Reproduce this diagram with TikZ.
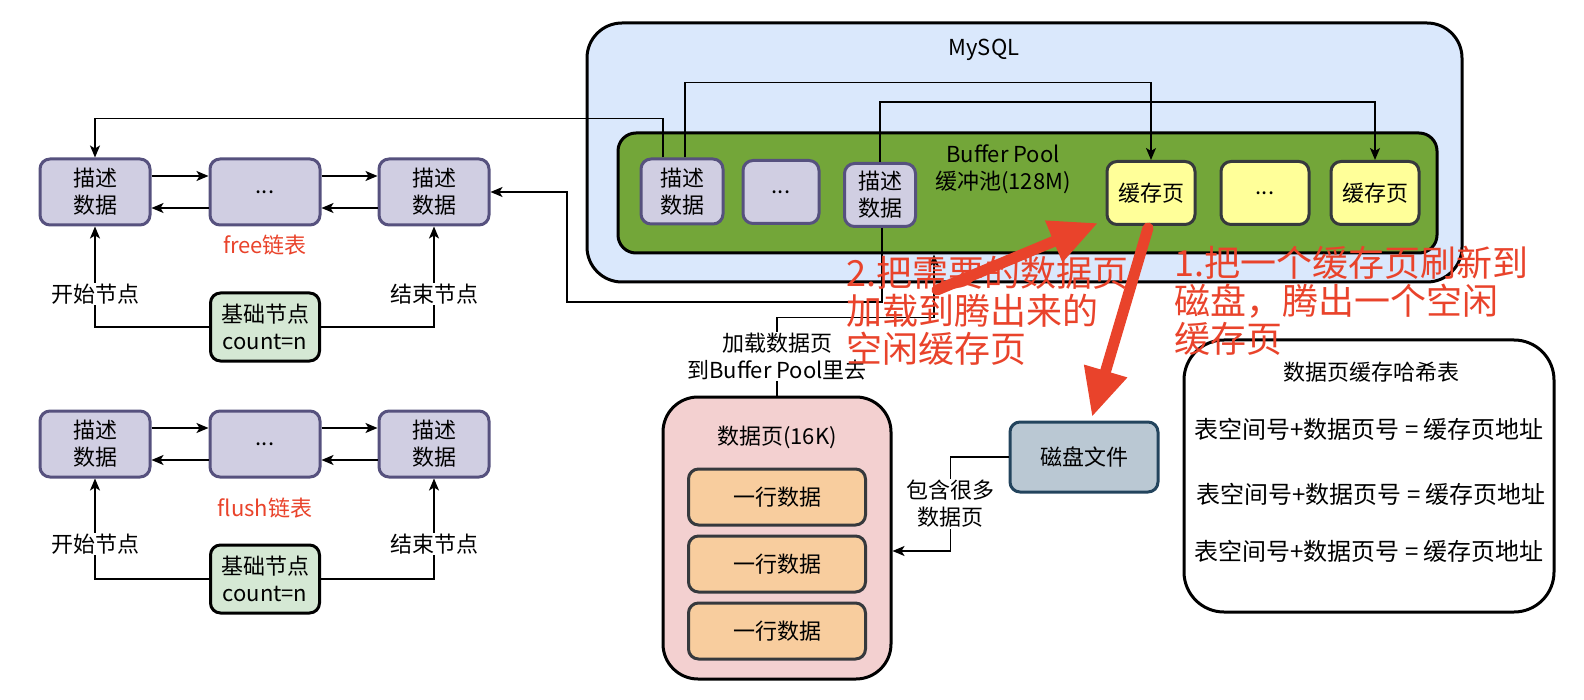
\documentclass[tikz,border=0pt]{standalone}
\usepackage{fontspec}
\setmainfont{Noto Sans CJK SC}
\usetikzlibrary{arrows.meta,positioning}
\tikzset{>={Stealth[width=10pt,length=12pt,inset=3pt]}}

\definecolor{descfill}{HTML}{D0CEE2}
\definecolor{descline}{HTML}{56517E}
\definecolor{basefill}{HTML}{D5E8D4}
\definecolor{mysqlfill}{HTML}{DAE8FC}
\definecolor{poolfill}{HTML}{73A639}
\definecolor{cachefill}{HTML}{FFFF99}
\definecolor{darkline}{HTML}{36393D}
\definecolor{pagefill}{HTML}{F3D0D0}
\definecolor{rowfill}{HTML}{F8CD9E}
\definecolor{diskfill}{HTML}{BAC8D3}
\definecolor{diskline}{HTML}{23445D}
\definecolor{hintred}{HTML}{E9432B}

\tikzset{
  box/.style={rounded corners=10pt, line width=3pt, align=center, inner sep=0pt},
  desc/.style={box, draw=descline, fill=descfill, minimum height=66pt},
  basenode/.style={box, draw=black, fill=basefill, minimum width=109pt, minimum height=68pt},
  cache/.style={box, draw=darkline, fill=cachefill, minimum width=88pt, minimum height=63pt},
  rowbox/.style={box, draw=darkline, fill=rowfill, minimum width=177pt, minimum height=56pt},
  outer/.style={draw=black, line width=3pt, inner sep=0pt},
  conn/.style={line width=1.4pt, ->},
  tag/.style={fill=white, inner sep=1pt},
  hashrow/.style={font=\fontsize{24}{28}\selectfont},
  hint/.style={text=hintred, align=left, inner sep=0pt, font=\fontsize{36}{38}\selectfont},
  bigarrow/.style={draw=hintred, line width=11pt, line cap=round, -{Triangle[width=42pt,length=48pt]}},
}

\begin{document}
\begin{tikzpicture}[x=1pt, y=-1pt, every node/.append style={font=\fontsize{22}{27}\selectfont, align=center}]
  \useasboundingbox (0,0) rectangle (1584,700);

  % free list
  \node[desc, minimum width=110pt] (fa) at (95,192) {描述\\数据};
  \node[desc, minimum width=110pt] (fb) at (265,192) {...};
  \node[desc, minimum width=110pt] (fc) at (434,192) {描述\\数据};
  \node[text=hintred] (freelbl) at (265,245) {free链表};
  \node[basenode] (ba) at (265,327) {基础节点\\count=n};

  \draw[conn] ([yshift=16pt]fa.east) -- ([yshift=16pt]fb.west);
  \draw[conn] ([yshift=16pt]fb.east) -- ([yshift=16pt]fc.west);
  \draw[conn] ([yshift=-16pt]fb.west) -- ([yshift=-16pt]fa.east);
  \draw[conn] ([yshift=-16pt]fc.west) -- ([yshift=-16pt]fb.east);
  \draw[conn] (ba.west) -| (fa.south) node[tag, pos=0.665]{开始节点};
  \draw[conn] (ba.east) -| (fc.south) node[tag, pos=0.665]{结束节点};

  % flush list
  \node[desc, minimum width=110pt] (la) at (95,444) {描述\\数据};
  \node[desc, minimum width=110pt] (lb) at (265,444) {...};
  \node[desc, minimum width=110pt] (lc) at (434,444) {描述\\数据};
  \node[text=hintred] (flushlbl) at (265,508) {flush链表};
  \node[basenode] (bb) at (265,579) {基础节点\\count=n};

  \draw[conn] ([yshift=16pt]la.east) -- ([yshift=16pt]lb.west);
  \draw[conn] ([yshift=16pt]lb.east) -- ([yshift=16pt]lc.west);
  \draw[conn] ([yshift=-16pt]lb.west) -- ([yshift=-16pt]la.east);
  \draw[conn] ([yshift=-16pt]lc.west) -- ([yshift=-16pt]lb.east);
  \draw[conn] (bb.west) -| (la.south) node[tag, pos=0.675]{开始节点};
  \draw[conn] (bb.east) -| (lc.south) node[tag, pos=0.675]{结束节点};

  % MySQL and buffer pool
  \node[outer, fill=mysqlfill, rounded corners=35pt, minimum width=875pt, minimum height=259pt] (mysql) at (1024.5,152.5) {};
  \node (mysqllbl) at (984,50) {MySQL};
  \node[outer, fill=poolfill, rounded corners=18pt, minimum width=819pt, minimum height=120pt] (pool) at (1027.5,193) {};
  \node (poollbl) at (1003,169) {Buffer Pool\\缓冲池(128M)};

  \node[desc, minimum width=82pt, minimum height=65pt] (poola) at (682,191.5) {描述\\数据};
  \node[desc, minimum width=76pt, minimum height=63pt] (pooldots) at (781,192) {...};
  \node[desc, minimum width=71pt, minimum height=63pt] (poolb) at (880,195) {描述\\数据};
  \node[cache] (cachea) at (1151,193) {缓存页};
  \node[cache] (cacheb) at (1265,193) {...};
  \node[cache] (cachec) at (1375,193) {缓存页};

  \draw[conn] ([xshift=-19pt]poola.north) -- ++(0,-39) -| (fa.north); % pool -> free
  \draw[conn] ([xshift=3pt]poola.north) -- ++(0,-75) -| (cachea.north);
  \draw[conn] (poolb.north) -- ++(0,-60) -| (cachec.north);
  \draw[conn] ([xshift=2pt]poolb.south) -- ++(0,74) -- ++(-315,0) |- (fc.east); % pool -> free end

  % data page
  \node[outer, fill=pagefill, rounded corners=35pt, minimum width=228pt, minimum height=282pt] (page) at (777,538) {};
  \node (pagelbl) at (777,437) {数据页(16K)};
  \node[rowbox] (rowa) at (777,497) {一行数据};
  \node[rowbox] (rowb) at (777,564) {一行数据};
  \node[rowbox] (rowc) at (777,631) {一行数据};

  \node[box, draw=diskline, fill=diskfill, minimum width=148pt, minimum height=70pt] (disk) at (1084,457) {磁盘文件};

  \draw[conn] (page.north) -- node[tag]{加载数据页\\到Buffer Pool里去} ++(0,-78) -| ([xshift=-93.5pt]pool.south);
  \draw[conn] (disk.west) -- ++(-58,0) |- ([yshift=-13pt]page.east) node[tag, pos=0.25]{包含很多\\数据页};

  % hash table
  \node[outer, fill=white, rounded corners=40pt, minimum width=370pt, minimum height=272pt] (hash) at (1369,476) {};
  \node (hashlbl) at (1371,372) {数据页缓存哈希表};
  \node[hashrow] (hrowa) at (1369,429) {表空间号+数据页号 = 缓存页地址};
  \node[hashrow] (hrowb) at (1371,494) {表空间号+数据页号 = 缓存页地址};
  \node[hashrow] (hrowc) at (1369,551) {表空间号+数据页号 = 缓存页地址};

  % red hints
  \node[hint, anchor=west] (hinttwo) at (846,311) {2.把需要的数据页\\加载到腾出来的\\空闲缓存页};
  \node[hint, anchor=west] (hintone) at (1174,301) {1.把一个缓存页刷新到\\磁盘，腾出一个空闲\\缓存页};

  \coordinate (twofrom) at (937,290);
  \coordinate (twoto) at (1098,223);
  \coordinate (onefrom) at (1148,228);
  \coordinate (oneto) at (1092,417);
  \draw[bigarrow] (twofrom) -- (twoto);
  \draw[bigarrow] (onefrom) -- (oneto);

\end{tikzpicture}
\end{document}
